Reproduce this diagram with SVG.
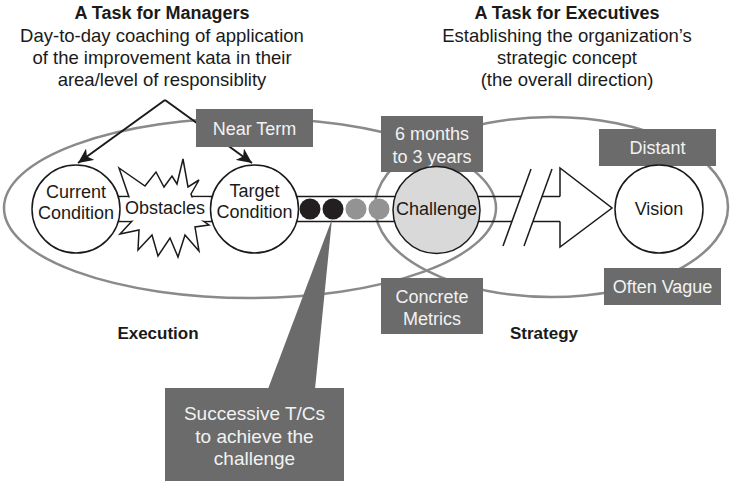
<svg xmlns="http://www.w3.org/2000/svg" width="733" height="484" viewBox="0 0 733 484">
<style>
.ell{fill:none;stroke:#8a8a8a;stroke-width:2.5}
.box{fill:#6b6b6b}
.bt{font-family:"Liberation Sans",Arial,sans-serif;font-size:18px;fill:#f2f2f2;text-anchor:middle}
.ht{font-family:"Liberation Sans",Arial,sans-serif;font-size:18.5px;fill:#1a1a1a;text-anchor:middle}
.hb{font-family:"Liberation Sans",Arial,sans-serif;font-size:18px;font-weight:bold;fill:#1a1a1a;text-anchor:middle}
.lb{font-family:"Liberation Sans",Arial,sans-serif;font-size:17px;font-weight:bold;fill:#1a1a1a;text-anchor:middle}
.nt{font-family:"Liberation Sans",Arial,sans-serif;font-size:18px;fill:#1a1a1a;text-anchor:middle}
.node{fill:#fff;stroke:#1a1a1a;stroke-width:1.5}
.ln{fill:none;stroke:#1a1a1a;stroke-width:1.5}
</style>
<defs>
<marker id="ah" markerUnits="userSpaceOnUse" markerWidth="16" markerHeight="14" refX="15" refY="7" orient="auto">
<path d="M0,0 L15,7 L0,14 L4,7 Z" fill="#1a1a1a"/>
</marker>
</defs>

<g id="ellipses">
<ellipse class="ell" cx="250" cy="208" rx="246" ry="90"/>
<ellipse class="ell" cx="551.5" cy="207" rx="176.5" ry="90"/>
</g>

<g id="connectors">
<line x1="165" y1="100" x2="78" y2="163" stroke="#1a1a1a" stroke-width="2" marker-end="url(#ah)"/>
<line x1="165" y1="100" x2="252" y2="163" stroke="#1a1a1a" stroke-width="2" marker-end="url(#ah)"/>
<g class="ln">
<line x1="76" y1="196.5" x2="436" y2="196.5"/>
<line x1="76" y1="221.5" x2="436" y2="221.5"/>
<line x1="436" y1="196.5" x2="521" y2="196.5"/>
<line x1="436" y1="221.5" x2="512" y2="221.5"/>
<line x1="542" y1="196.5" x2="560" y2="196.5"/>
<line x1="533" y1="221.5" x2="560" y2="221.5"/>
<polyline points="560,196.5 560,168 612,208 560,247 560,221.5"/>
<line x1="531" y1="169" x2="503" y2="246"/>
<line x1="552" y1="169" x2="524" y2="246"/>
</g>
</g>

<g id="header-managers">
<text class="hb" x="162" y="19">A Task for Managers</text>
<text class="ht" x="162" y="42">Day-to-day coaching of application</text>
<text class="ht" x="162" y="64">of the improvement kata in their</text>
<text class="ht" x="162" y="86">area/level of responsiblity</text>
</g>
<g id="header-executives">
<text class="hb" x="567" y="19">A Task for Executives</text>
<text class="ht" x="567" y="42">Establishing the organization’s</text>
<text class="ht" x="567" y="64">strategic concept</text>
<text class="ht" x="567" y="86">(the overall direction)</text>
</g>

<g id="near-term">
<rect class="box" x="196" y="109" width="117" height="38"/>
<text class="bt" x="254.5" y="135">Near Term</text>
</g>
<g id="months">
<rect class="box" x="381" y="116" width="102" height="56"/>
<text class="bt" x="432" y="140">6 months</text>
<text class="bt" x="432" y="163">to 3 years</text>
</g>
<g id="distant">
<rect class="box" x="599" y="129" width="117" height="37"/>
<text class="bt" x="657.5" y="154">Distant</text>
</g>
<g id="often-vague">
<rect class="box" x="604" y="268" width="117" height="37"/>
<text class="bt" x="662.5" y="293">Often Vague</text>
</g>
<g id="concrete-metrics">
<rect class="box" x="381" y="278" width="102" height="56"/>
<text class="bt" x="432" y="303">Concrete</text>
<text class="bt" x="432" y="325">Metrics</text>
</g>

<g id="obstacles">
<polygon points="119,168 145,186 156,172 164,187 172,176 177,184 183,159 188,187 199,180 191,194 193,200 196,216 209,225 195,227 199,251 185,235 178,257 170,238 158,256 152,235 138,250 139,230 120,234 133,220 130,200" fill="#fff" stroke="#1a1a1a" stroke-width="1.5"/>
<rect x="121" y="197.5" width="88" height="23" fill="#fff"/>
<text class="nt" x="165" y="214">Obstacles</text>
</g>

<g id="current-condition">
<circle class="node" cx="76" cy="209" r="44"/>
<text class="nt" x="76" y="198">Current</text>
<text class="nt" x="76" y="219">Condition</text>
</g>
<g id="target-condition">
<circle class="node" cx="254.5" cy="209" r="44"/>
<text class="nt" x="254.5" y="197">Target</text>
<text class="nt" x="254.5" y="218">Condition</text>
</g>
<g id="challenge">
<circle cx="436.5" cy="210" r="43.5" fill="#d9d9d9" stroke="#1a1a1a" stroke-width="1.5"/>
<text class="nt" x="436.5" y="215">Challenge</text>
</g>
<g id="vision">
<circle class="node" cx="659" cy="209" r="44"/>
<text class="nt" x="659" y="215">Vision</text>
</g>

<g id="successive">
<polygon class="box" points="268,389 332,219 315,389"/>
<circle cx="310" cy="209" r="10.5" fill="#231f20"/>
<circle cx="333" cy="209" r="10.5" fill="#231f20"/>
<circle cx="356" cy="209" r="10.5" fill="#939393"/>
<circle cx="379" cy="209" r="10.5" fill="#939393"/>
<rect class="box" x="165" y="388" width="179" height="93"/>
<text class="bt" x="254.5" y="420" style="font-size:19px">Successive T/Cs</text>
<text class="bt" x="254.5" y="443" style="font-size:19px">to achieve the</text>
<text class="bt" x="254.5" y="465" style="font-size:19px">challenge</text>
</g>

<g id="labels">
<text class="lb" x="158" y="339">Execution</text>
<text class="lb" x="544" y="339">Strategy</text>
</g>
</svg>
